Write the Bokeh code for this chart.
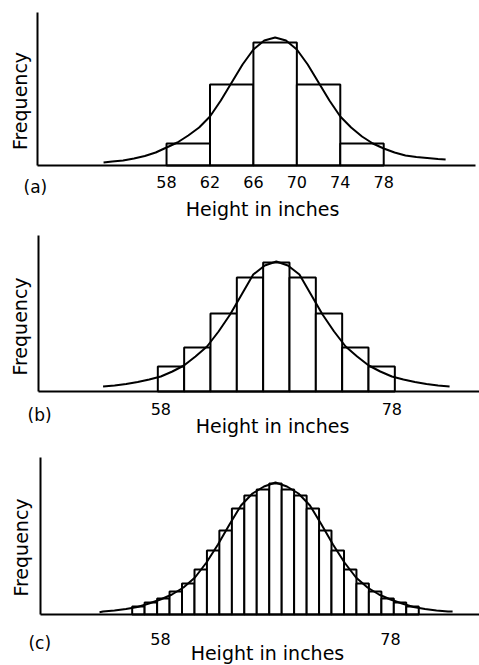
from bokeh.plotting import figure
from bokeh.models import Range1d, FixedTicker, Label
from bokeh.layouts import column
from bokeh.embed import file_html
from bokeh.resources import INLINE

# ---------------- data ----------------
# (a) 4-inch classes
a_edges = [58, 62, 66, 70, 74, 78]
a_heights = [22, 81, 123, 81, 22]
a_ticks = [58, 62, 66, 70, 74, 78]
a_curve_x = [52.2, 53, 54, 55, 56, 57, 58, 59, 60, 61, 62, 63, 64, 65, 66, 67, 68,
             69, 70, 71, 72, 73, 74, 75, 76, 77, 78, 79, 80, 81, 82, 83, 83.7]
a_curve_y = [3, 4, 5, 7, 9.5, 13, 18, 23, 30, 38, 49, 65, 83, 101, 116, 125, 128,
             125, 116, 101, 83, 65, 49, 38, 29, 22, 17, 13, 10, 8.5, 7.5, 6.5, 6]

# (b) narrower classes
b_edges = [57.74, 60.02, 62.30, 64.58, 66.86, 69.14, 71.42, 73.70, 75.98, 78.26]
b_heights = [25, 44, 78, 114, 129, 114, 78, 44, 25]
b_ticks = [58, 78]
b_curve_x = [53, 54, 55, 56, 57, 58, 59, 60, 61, 62, 63, 64, 65, 66, 67, 68,
             69, 70, 71, 72, 73, 74, 75, 76, 77, 78, 79, 80, 81, 82, 83]
b_curve_y = [5, 6, 7.5, 9.5, 12, 15, 20, 26, 35, 45, 60, 77, 97, 117, 126, 130,
             126, 117, 97, 77, 60, 45, 35, 26, 20, 15, 12, 9.5, 7.5, 6, 5]

# (c) very narrow classes
c_edges = [55.54, 56.62, 57.71, 58.79, 59.87, 60.96, 62.04, 63.12, 64.21, 65.29,
           66.37, 67.46, 68.54, 69.62, 70.71, 71.79, 72.87, 73.96, 75.04, 76.12,
           77.21, 78.29, 79.37, 80.46]
c_heights = [8, 12, 16, 23, 31, 45, 64, 84, 106, 119, 125, 131, 125, 119, 106,
             84, 64, 45, 31, 23, 16, 12, 8]
c_ticks = [58, 78]
c_curve_x = [52.7, 53, 54, 55, 56, 57, 58, 59, 60, 61, 62, 63, 64, 65, 66, 67, 68,
             69, 70, 71, 72, 73, 74, 75, 76, 77, 78, 79, 80, 81, 82, 83, 83.4]
c_curve_y = [2.3, 3, 4, 5.5, 7.5, 11, 15, 20, 27, 37, 52, 70, 90, 109, 121, 128, 132,
             128, 121, 109, 90, 70, 52, 37, 27, 20, 15, 11, 7.5, 5.5, 4, 3, 3]

panel_tags = ["(a)", "(b)", "(c)"]
x_title = "Height in inches"
y_title = "Frequency"

FONT = "DejaVu Sans"


def make_panel(edges, heights, ticks, cx, cy, tag, xr, yr, fig_h, yaxis_x, yaxis_top,
               xaxis_end, tick_standoff, tag_pos, xlab_pos, ylab_pos):
    p = figure(frame_width=479, frame_height=fig_h,
               x_range=Range1d(*xr), y_range=Range1d(*yr),
               output_backend="svg", toolbar_location=None,
               min_border_left=0, min_border_right=0, min_border_top=0,
               min_border_bottom=0)
    p.xgrid.visible = False
    p.ygrid.visible = False
    p.outline_line_color = None
    p.background_fill_color = "white"
    p.border_fill_color = "white"

    p.quad(left=edges[:-1], right=edges[1:], top=heights, bottom=0,
           fill_color="white", line_color="black", line_width=2)
    p.line(cx, cy, line_color="black", line_width=2)

    # x axis: a line along zero frequency, starting at the frequency axis
    xa = p.xaxis[0]
    xa.fixed_location = 0
    xa.bounds = (yaxis_x, xaxis_end)
    xa.ticker = FixedTicker(ticks=ticks)
    xa.major_tick_line_color = None
    xa.minor_tick_line_color = None
    xa.major_tick_out = 0
    xa.major_tick_in = 0
    xa.axis_line_width = 2
    xa.axis_line_color = "black"
    xa.major_label_standoff = tick_standoff
    xa.major_label_text_font = FONT
    xa.major_label_text_font_size = "16px"
    xa.major_label_text_color = "black"

    # y axis (line only)
    ya = p.yaxis[0]
    ya.fixed_location = yaxis_x
    ya.bounds = (0, yaxis_top)
    ya.ticker = FixedTicker(ticks=[])
    ya.major_tick_line_color = None
    ya.minor_tick_line_color = None
    ya.major_label_text_font_size = "0px"
    ya.axis_line_width = 2
    ya.axis_line_color = "black"

    p.add_layout(Label(x=tag_pos[0], y=tag_pos[1], text=tag, text_font=FONT,
                       text_font_size="17px", text_align="left",
                       text_baseline="alphabetic", text_color="black"))
    p.add_layout(Label(x=xlab_pos[0], y=xlab_pos[1], text=x_title, text_font=FONT,
                       text_font_size="19px", text_align="center",
                       text_baseline="alphabetic", text_color="black"))
    p.add_layout(Label(x=ylab_pos[0], y=ylab_pos[1], text=y_title, text_font=FONT,
                       text_font_size="19px", text_align="center",
                       text_baseline="alphabetic", angle=1.5708, text_color="black"))
    return p


pa = make_panel(a_edges, a_heights, a_ticks, a_curve_x, a_curve_y, panel_tags[0],
                (42.71, 86.82), (-59, 165), 224, 46.12, 153, 86.45, 10,
                (44.83, -21), (66.84, -43), (44.47, 64.5))
pb = make_panel(b_edges, b_heights, b_ticks, b_curve_x, b_curve_y, panel_tags[1],
                (44.12, 85.59), (-55, 167), 222, 47.44, 156, 85.59, 11,
                (46.46, -23), (67.67, -34), (45.85, 65))
pc = make_panel(c_edges, c_heights, c_ticks, c_curve_x, c_curve_y, panel_tags[2],
                (44.09, 85.74), (-51, 168), 219, 47.57, 157, 85.74, 18,
                (46.52, -28), (67.3, -38), (45.91, 67))

layout = column(pa, pb, pc, spacing=0)
open("out.html", "w").write(file_html(layout, INLINE))
